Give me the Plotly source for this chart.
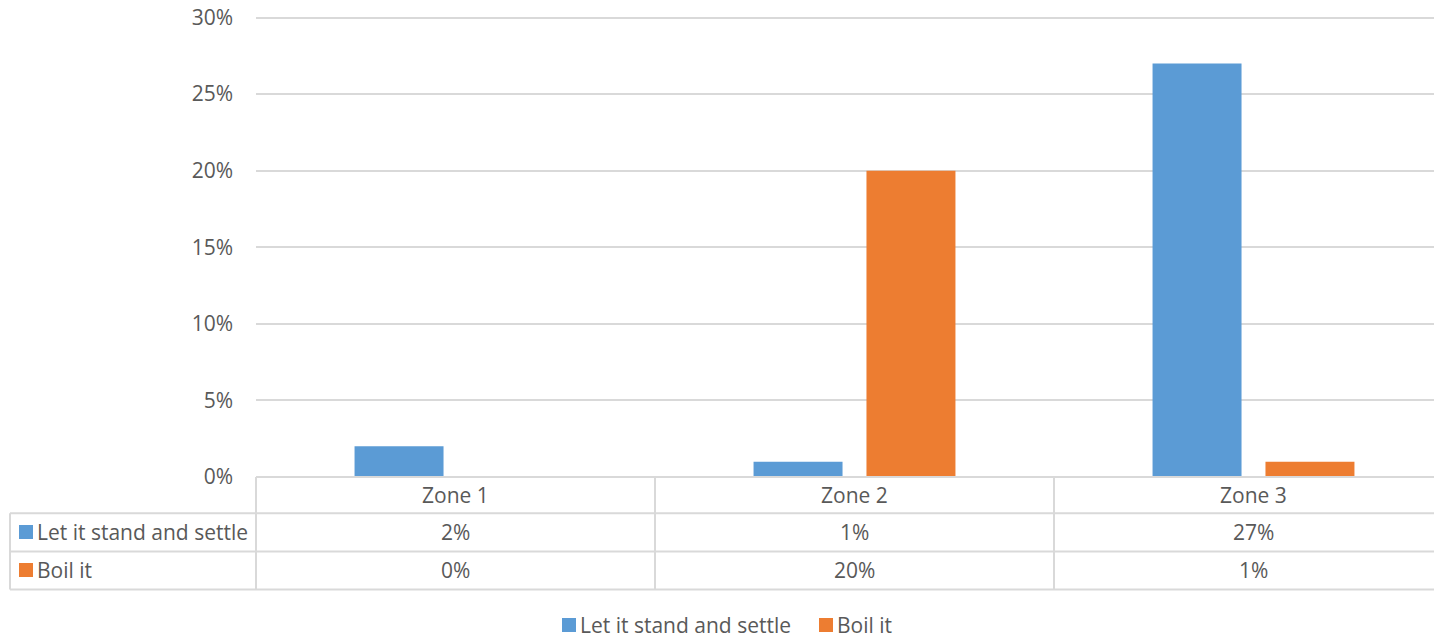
import plotly.graph_objects as go

categories = ["Zone 1", "Zone 2", "Zone 3"]
settle = [2, 1, 27]
boil = [0, 20, 1]
series_names = ["Let it stand and settle", "Boil it"]
colors = ["#5B9BD5", "#ED7D31"]
y_ticks = [0, 5, 10, 15, 20, 25, 30]
y_max = 30.1

# page body has an 8px margin, so the figure is sized/offset to compensate
OFF = 8
W, H = 1442 - 2 * OFF, 638 - OFF
L_REF = 256.0
B_REF = 477.0
T_REF = B_REF - (B_REF - 17.5) * y_max / 30.0
R_REF = OFF + W
PW = R_REF - L_REF
PH = B_REF - T_REF
CAT = 399.0
FONT = "Open Sans"
FS = 21
TXT = "#595959"
GRID = "#D9D9D9"


def px(x):
    return (x - L_REF) / PW


def py(y):
    return (B_REF - y) / PH


fig = go.Figure()
for name, vals, col in zip(series_names, [settle, boil], colors):
    fig.add_trace(go.Bar(x=list(range(len(categories))), y=vals, name=name,
                         marker=dict(color=col, line=dict(width=0)), showlegend=False))

shapes = []
annotations = []
line = dict(color=GRID, width=2)
# horizontal table lines
shapes.append(dict(type="line", xref="paper", yref="paper", x0=0, x1=1.02, y0=py(477), y1=py(477), line=line))
for yy in [513.3, 551.5, 589.5]:
    shapes.append(dict(type="line", xref="paper", yref="paper", x0=px(10), x1=1.02, y0=py(yy), y1=py(yy), line=line))
# vertical lines
shapes.append(dict(type="line", xref="paper", yref="paper", x0=px(10), x1=px(10), y0=py(513.3), y1=py(589.5), line=line))
for i in range(len(categories)):
    xx = L_REF + CAT * i
    shapes.append(dict(type="line", xref="paper", yref="paper", x0=px(xx), x1=px(xx), y0=py(477), y1=py(589.5), line=line))

tfont = dict(family=FONT, size=FS, color=TXT)
for i, c in enumerate(categories):
    annotations.append(dict(x=i, y=py(495), xref="x", yref="paper", text=c, showarrow=False,
                            font=tfont, xanchor="center", yanchor="middle"))
row_centers = [532, 570]
for yc, name, vals, col in zip(row_centers, series_names, [settle, boil], colors):
    shapes.append(dict(type="rect", xref="paper", yref="paper", x0=px(19), x1=px(33), y0=py(yc - 7), y1=py(yc + 7),
                       fillcolor=col, line=dict(width=0)))
    annotations.append(dict(x=px(35), y=py(yc), xref="paper", yref="paper", text=name, showarrow=False,
                            font=tfont, xanchor="left", yanchor="middle"))
    for i, v in enumerate(vals):
        annotations.append(dict(x=i, y=py(yc), xref="x", yref="paper", text=f"{v}%", showarrow=False,
                                font=tfont, xanchor="center", yanchor="middle"))

# bottom legend
leg_y = 625
leg_x = [562, 819]
for lx, name, col in zip(leg_x, series_names, colors):
    shapes.append(dict(type="rect", xref="paper", yref="paper", x0=px(lx), x1=px(lx + 14),
                       y0=py(leg_y - 7), y1=py(leg_y + 7), fillcolor=col, line=dict(width=0)))
    annotations.append(dict(x=px(lx + 16), y=py(leg_y), xref="paper", yref="paper", text=name, showarrow=False,
                            font=tfont, xanchor="left", yanchor="middle"))

fig.update_layout(
    width=W, height=H,
    margin=dict(l=L_REF - OFF, r=0, t=T_REF - OFF, b=H - (B_REF - OFF), pad=0),
    paper_bgcolor="white", plot_bgcolor="white",
    barmode="group", bargap=0.434, bargroupgap=0.212,
    font=tfont,
    xaxis=dict(range=[-0.5, -0.5 + PW / CAT], showticklabels=False, showgrid=False,
               zeroline=False, showline=False, ticks="", automargin=False),
    yaxis=dict(range=[0, y_max], tickvals=y_ticks, ticktext=[f"{t}%" for t in y_ticks],
               showgrid=True, gridcolor=GRID, gridwidth=1.6, zeroline=False, showline=False,
               ticks="", ticklabelstandoff=22, ticklabeloverflow="allow", tickfont=tfont,
               automargin=False),
    shapes=shapes, annotations=annotations,
    showlegend=False,
)

fig.write_html("out.html")
